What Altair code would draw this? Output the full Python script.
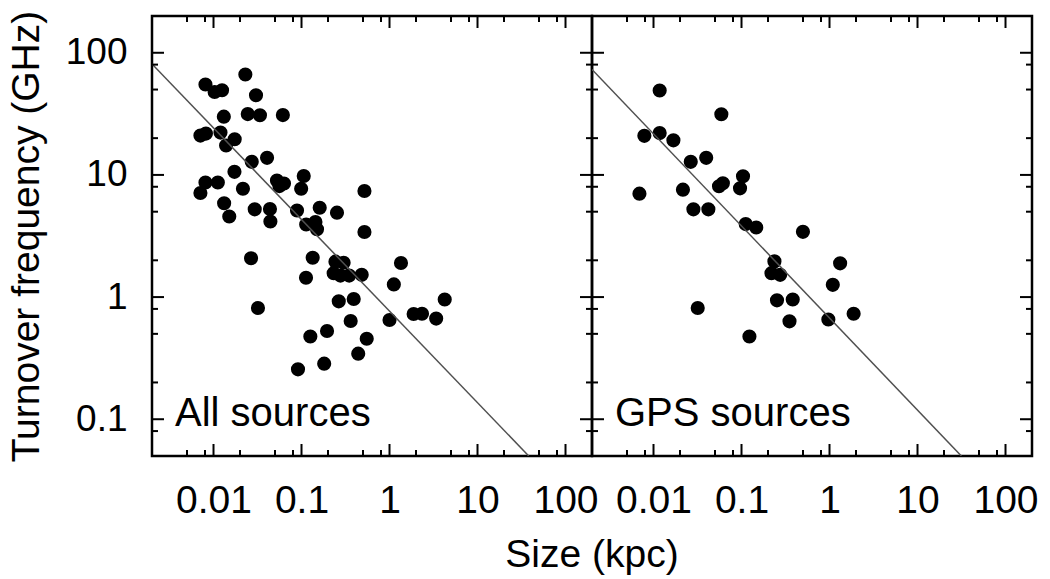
import altair as alt
import pandas as pd

# ---- data ----
all_size = [0.0230, 0.0081, 0.0103, 0.0125, 0.0304, 0.0131, 0.0245, 0.0337, 0.0614,
            0.0071, 0.0082, 0.0120, 0.0174, 0.0139, 0.0272, 0.0406, 0.0173, 0.0081,
            0.0112, 0.0071, 0.0216, 0.0526, 0.0632, 0.0561, 0.106, 0.0991, 0.519,
            0.0132, 0.0151, 0.0294, 0.0438, 0.0443, 0.0889, 0.161, 0.253, 0.113,
            0.144, 0.150, 0.519, 0.0267, 0.134, 0.243, 0.301, 1.35, 0.1125, 0.232,
            0.277, 0.348, 0.483, 1.12, 0.265, 0.392, 4.24, 0.0320, 1.88, 2.34, 3.39,
            0.362, 1.00, 0.126, 0.195, 0.551, 0.441, 0.181, 0.0912]
all_freq = [66.4, 55.0, 47.7, 49.3, 44.9, 30.0, 31.5, 30.8, 30.9,
            21.0, 21.8, 22.2, 19.6, 17.4, 12.8, 13.8, 10.6, 8.67,
            8.67, 7.11, 7.71, 9.0, 8.5, 8.1, 9.8, 7.7, 7.38,
            5.86, 4.57, 5.23, 5.26, 4.16, 5.11, 5.39, 4.91, 3.93,
            4.12, 3.59, 3.41, 2.08, 2.10, 1.95, 1.91, 1.90, 1.44, 1.57,
            1.50, 1.50, 1.52, 1.27, 0.923, 0.964, 0.955, 0.814, 0.727, 0.73, 0.667,
            0.637, 0.649, 0.476, 0.528, 0.456, 0.344, 0.285, 0.256]

gps_size = [0.01175, 0.0590, 0.00787, 0.01175, 0.01683, 0.0265, 0.0397, 0.00692,
            0.0216, 0.0284, 0.0420, 0.0555, 0.0614, 0.0318, 0.104, 0.0962, 0.1116,
            0.147, 0.499, 0.2366, 0.219, 0.275, 1.32, 1.09, 0.253, 0.382, 0.351,
            0.970, 1.88, 0.123]
gps_freq = [49.1, 31.4, 20.9, 22.0, 19.2, 12.8, 13.8, 7.02,
            7.57, 5.23, 5.23, 8.07, 8.54, 0.814, 9.75, 7.77, 3.96,
            3.71, 3.42, 1.96, 1.57, 1.52, 1.89, 1.26, 0.941, 0.955, 0.633,
            0.655, 0.731, 0.476]

all_fit_x = [0.002, 38.2]
all_fit_y = [81.0, 0.05]
gps_fit_x = [0.002, 31.5]
gps_fit_y = [73.0, 0.05]

x_major = [0.01, 0.1, 1, 10, 100]
x_minor = [0.005, 0.008, 0.02, 0.05, 0.08, 0.2, 0.5, 0.8, 2, 5, 8, 20, 50, 80]
y_major = [0.1, 1, 10, 100]
y_minor = [0.08, 0.2, 0.5, 0.8, 2, 5, 8, 20, 50, 80]

x_domain = [0.002, 200]
y_domain = [0.05, 200]

FONT = "Liberation Sans"
W = 440
H = 440
MAJ = 12
MIN = 6


def panel(sizes, freqs, fit_x, fit_y, label, show_y):
    xs = alt.Scale(type="log", domain=x_domain, nice=False)
    ys = alt.Scale(type="log", domain=y_domain, nice=False)
    pts = pd.DataFrame({"size": sizes, "freq": freqs})
    fit = pd.DataFrame({"size": fit_x, "freq": fit_y})

    x_axis = alt.Axis(values=x_major, format="~g", ticks=False, domain=False, grid=False,
                      labelFont=FONT, labelFontSize=39, labelColor="black",
                      labelPadding=25, title=None, labelFlush=False, labelOverlap=False)
    if show_y:
        y_axis = alt.Axis(values=y_major, format="~g", ticks=False, domain=False, grid=False,
                          labelFont=FONT, labelFontSize=37, labelColor="black",
                          labelPadding=25, title="Turnover frequency (GHz)",
                          titleFont=FONT, titleFontSize=39, titleFontWeight="normal",
                          titleColor="black", minExtent=100, maxExtent=100, titlePadding=6,
                          labelFlush=False, labelOverlap=False)
    else:
        y_axis = None

    def X(field):
        return alt.X(field, scale=xs, axis=x_axis)

    def Y(field):
        return alt.Y(field, scale=ys, axis=y_axis)

    points = alt.Chart(pts).mark_circle(size=200, color="black", opacity=1).encode(
        x=X("size:Q"), y=Y("freq:Q"))
    line = alt.Chart(fit).mark_line(color="#505050", strokeWidth=1.5, clip=True).encode(
        x=X("size:Q"), y=Y("freq:Q"))
    txt = alt.Chart(pd.DataFrame({"t": [label]})).mark_text(
        align="left", baseline="alphabetic", font=FONT, fontSize=40, color="black"
    ).encode(text="t:N", x=alt.value(23), y=alt.value(410))

    xt = pd.DataFrame({"v": x_major + x_minor,
                       "len": [MAJ] * len(x_major) + [MIN] * len(x_minor)})
    yt = pd.DataFrame({"v": y_major + y_minor,
                       "len": [MAJ] * len(y_major) + [MIN] * len(y_minor)})

    layers = [points, line, txt]
    for L in (MAJ, MIN):
        xd = xt[xt["len"] == L]
        yd = yt[yt["len"] == L]
        layers.append(alt.Chart(xd).mark_rule(color="black", strokeWidth=2).encode(
            x=X("v:Q"), y=alt.value(H), y2=alt.value(H - L)))
        layers.append(alt.Chart(xd).mark_rule(color="black", strokeWidth=2).encode(
            x=X("v:Q"), y=alt.value(0), y2=alt.value(L)))
        layers.append(alt.Chart(yd).mark_rule(color="black", strokeWidth=2).encode(
            y=Y("v:Q"), x=alt.value(0), x2=alt.value(L)))
        layers.append(alt.Chart(yd).mark_rule(color="black", strokeWidth=2).encode(
            y=Y("v:Q"), x=alt.value(W), x2=alt.value(W - L)))

    if show_y:
        layers.append(alt.Chart(pd.DataFrame({"t": ["Size (kpc)"]})).mark_text(
            align="center", baseline="alphabetic", font=FONT, fontSize=39, color="black"
        ).encode(text="t:N", x=alt.value(W), y=alt.value(551)))

    return alt.layer(*layers).properties(width=W, height=H)


left = panel(all_size, all_freq, all_fit_x, all_fit_y, "All sources", True)
right = panel(gps_size, gps_freq, gps_fit_x, gps_fit_y, "GPS sources", False)

chart = alt.hconcat(left, right, spacing=0, bounds="flush").properties(
    padding={"left": 5, "top": 8, "right": 10, "bottom": 2},
    background="white",
).configure_view(stroke="black", strokeWidth=2.5)

chart.save("out.html", embed_options={"renderer": "svg", "actions": False})
